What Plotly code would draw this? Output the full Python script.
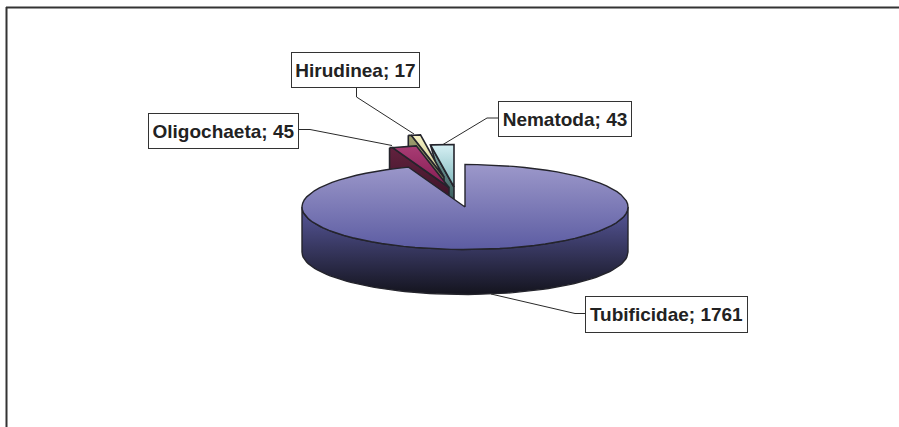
import numpy as np
import plotly.graph_objects as go

# ---- data ----
categories = ["Tubificidae", "Oligochaeta", "Hirudinea", "Nematoda"]
values = [1761, 45, 17, 43]

# ---- look of the tilted pie (canvas pixels on a 899x427 axis) ----
W, H = 899, 427
CX, CY, RX, RY, DEPTH = 465.0, 207.0, 163.0, 42.5, 45.0
EDGE = "#24242c"

slice_style = {
    "Tubificidae": dict(offset=(0, 0), top=("#9c98ca", "#5c5ca2"), wall=("#4e4e8a", "#14141e")),
    "Oligochaeta": dict(offset=(-16, -19.5), top=("#a83c74", "#861c52"), wall=("#64223f", "#3c1428"),
                        lean=(-3, -3)),
    "Hirudinea": dict(offset=(-21, -30), top=("#f6f2c6", "#c8c488"), wall=("#a0a070", "#666a4a"),
                      lean=(-3, -3)),
    "Nematoda": dict(offset=(-11, -20), top=("#d6f0f4", "#7fb8bc"), wall=("#86aeaa", "#3a5e5e"),
                     lean=(0, 13)),
}

# label boxes: left, top, right, bottom
label_boxes = {
    "Tubificidae": (585, 296, 748, 332.5),
    "Oligochaeta": (148, 112.5, 299, 148.5),
    "Hirudinea": (291, 51.5, 420, 87.5),
    "Nematoda": (498, 101, 632, 137),
}
# leader lines, from box to slice
leaders = {
    "Tubificidae": ([585, 575, 491], [313.5, 313.5, 294]),
    "Oligochaeta": ([299, 310, 392], [129.5, 129.5, 145.5]),
    "Hirudinea": ([356.5, 356.5, 414], [88, 97, 134]),
    "Nematoda": ([498, 487, 443], [118, 118, 144.5]),
}


def rim(start, stop, ox=0.0, oy=0.0, n=80):
    """Points on the ellipse; angles in degrees clockwise from 12 o'clock."""
    a = np.radians(np.linspace(start, stop, n))
    return CX + ox + RX * np.sin(a), CY + oy - RY * np.cos(a)


def grad(colors, y0, y1):
    return dict(type="vertical", start=y0, stop=y1,
                colorscale=[[0, colors[0]], [1, colors[1]]])


def poly(xs, ys, colors, y0, y1, name, width=1.4):
    xs, ys = np.asarray(xs, float), np.asarray(ys, float)
    return go.Scatter(x=np.r_[xs, xs[0]], y=np.r_[ys, ys[0]], mode="lines", fill="toself",
                      fillgradient=grad(colors, y0, y1),
                      line=dict(color=EDGE, width=width), name=name,
                      hoverinfo="name", showlegend=False)


angles = np.cumsum([0] + values) / sum(values) * 360.0
spans = {c: (angles[i], angles[i + 1]) for i, c in enumerate(categories)}

fig = go.Figure()

# painter's order: far exploded slices first, main slice last
for name in ["Nematoda", "Hirudinea", "Oligochaeta"]:
    s = slice_style[name]
    ox, oy = s["offset"]
    a0, a1 = spans[name]
    ax, ay = CX + ox, CY + oy
    rx, ry = rim(a0, a1, ox, oy, 12)
    lt, lb = s["lean"]
    wall_x = [rx[0] + lt, rx[0], ax, ax, rx[0] + lb]
    wall_y = [ry[0], ry[0], ay, ay + DEPTH, ry[0] + DEPTH]
    fig.add_trace(poly(wall_x, wall_y, s["wall"], ry.min(), ay + 12, name, 1.6))
    fig.add_trace(poly(np.r_[ax, rx], np.r_[ay, ry], s["top"], ry.min(), ay, name, 1.6))

# main slice: wall, then top face
s = slice_style["Tubificidae"]
a0, a1 = spans["Tubificidae"]
fx, fy = rim(90, 270, 0, 0)
bx, by = rim(270, 90, 0, DEPTH)
fig.add_trace(poly(np.r_[fx, bx], np.r_[fy, by], s["wall"], CY + 12, CY + RY + DEPTH, "Tubificidae"))
tx, ty = rim(a0, a1)
fig.add_trace(poly(np.r_[CX, tx], np.r_[CY, ty], s["top"], CY - RY, CY + RY, "Tubificidae"))

# leaders
for name in categories:
    lx, ly = leaders[name]
    fig.add_trace(go.Scatter(x=lx, y=ly, mode="lines", line=dict(color="#2a2a2a", width=1),
                             hoverinfo="skip", showlegend=False))

# labels
annotations = []
for name, val in zip(categories, values):
    l, t, r, b = label_boxes[name]
    annotations.append(dict(
        x=(l + r) / 2, y=(t + b) / 2, xref="x", yref="y", showarrow=False,
        text=f"{name}; {val}", width=r - l - 2, height=b - t - 2, align="center", valign="middle",
        bgcolor="white", bordercolor="#333333", borderwidth=1, borderpad=0,
        font=dict(family="Liberation Sans, Arial, sans-serif", size=19, color="#222222",
                  weight="bold"),
    ))

fig.update_layout(
    width=W, height=H, margin=dict(l=0, r=0, t=0, b=0),
    paper_bgcolor="white", plot_bgcolor="white",
    xaxis=dict(range=[0, W], visible=False, fixedrange=True),
    yaxis=dict(range=[H, 0], visible=False, fixedrange=True),
    annotations=annotations,
    shapes=[
        dict(type="line", xref="x", yref="y", x0=6, x1=W, y0=7.5, y1=7.5,
             line=dict(color="#333333", width=2)),
        dict(type="line", xref="x", yref="y", x0=6.5, x1=6.5, y0=7, y1=H,
             line=dict(color="#333333", width=2)),
    ],
)

fig.write_html("out.html", config={"displayModeBar": False},
               post_script="document.body.style.margin='0';document.body.style.overflow='hidden';")
